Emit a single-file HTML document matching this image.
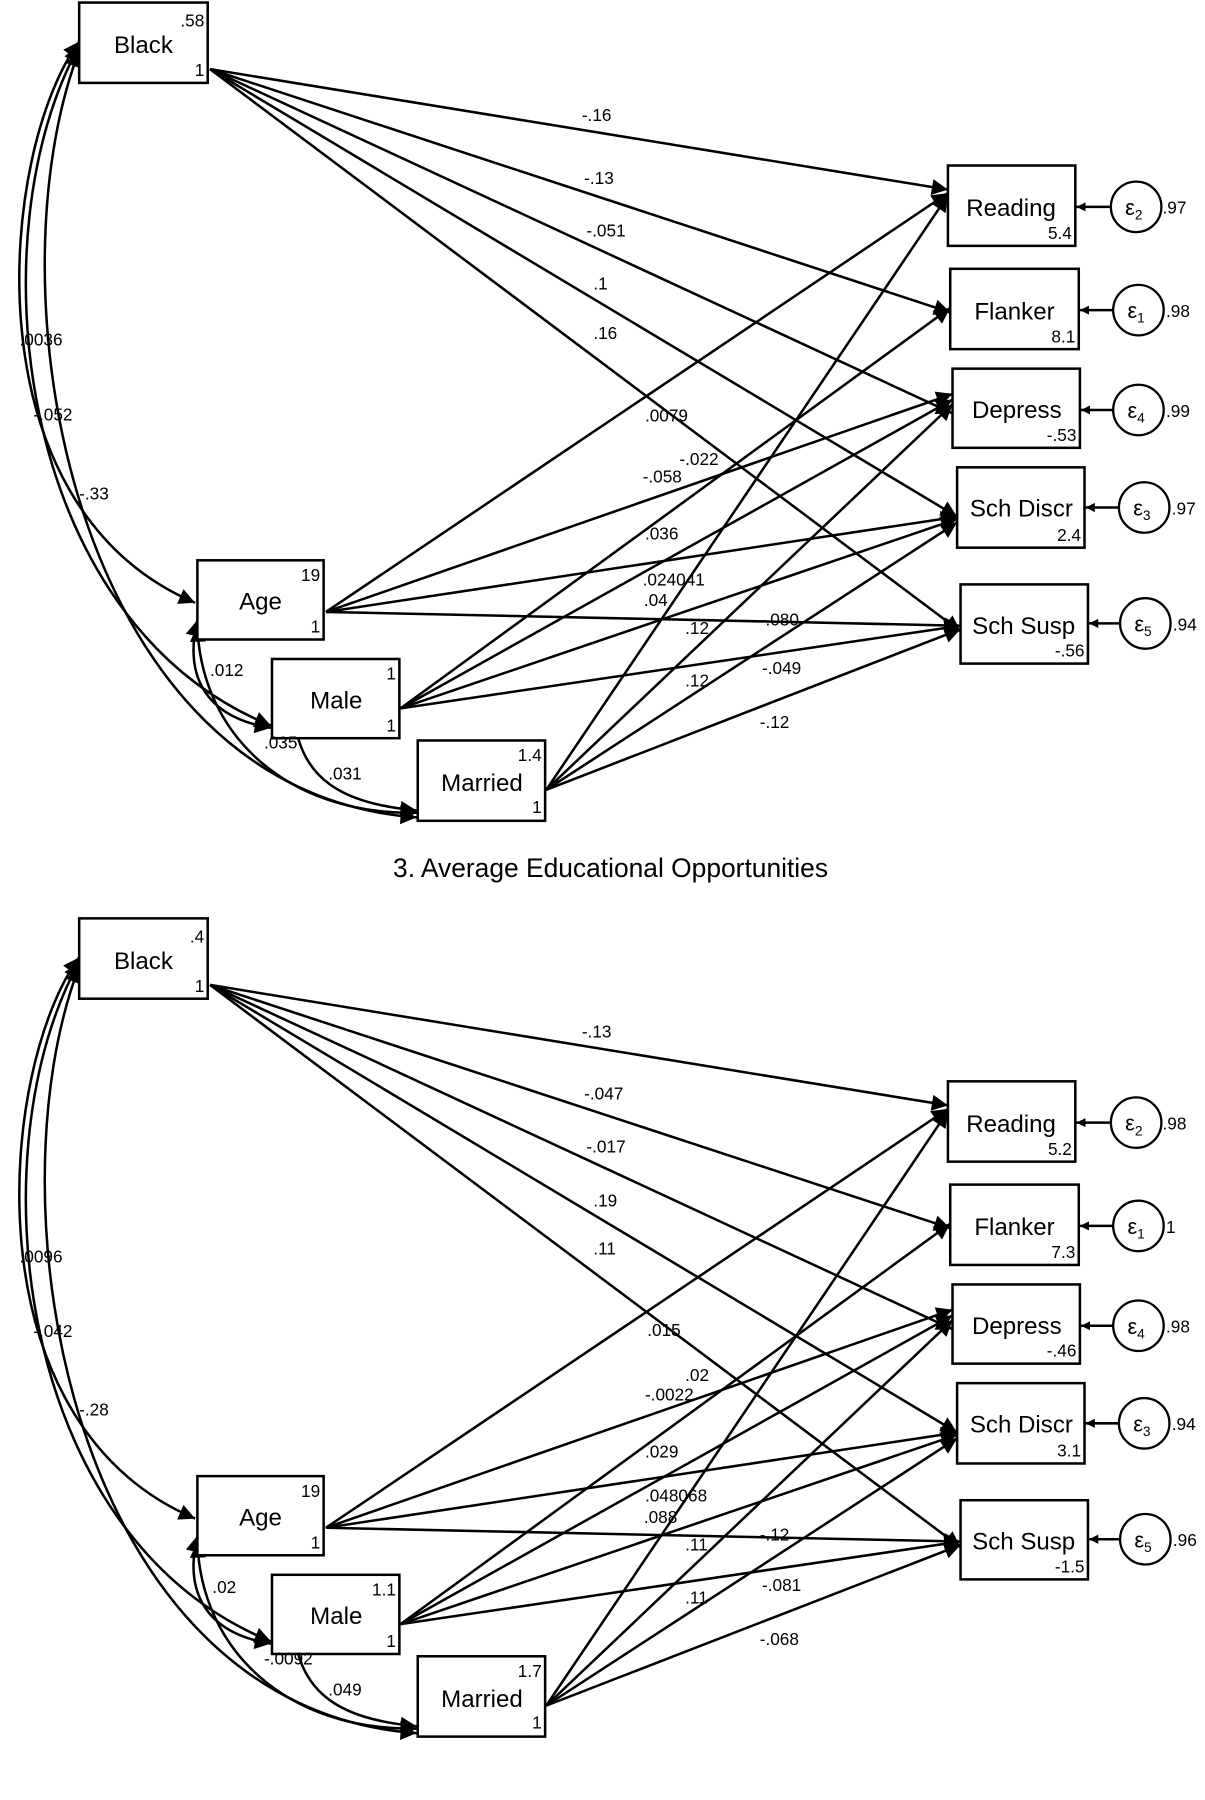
<!DOCTYPE html>
<html><head><meta charset="utf-8"><style>
html,body{margin:0;padding:0;background:#fff}
svg{display:block}
text{font-family:"Liberation Sans",Arial,sans-serif;fill:#000}
.b{font-size:21px;text-anchor:middle}
.s{font-size:15px}
.r{text-anchor:end}
.t{font-size:23px;text-anchor:middle}
line,path{stroke:#000;stroke-width:2.2;fill:none}
rect{stroke:#000;stroke-width:2.2;fill:#fff}
circle{stroke:#000;stroke-width:2;fill:#fff}
</style></head><body>
<svg width="1205" height="1800" viewBox="0 0 1050 1568" xmlns="http://www.w3.org/2000/svg">
<defs>
<marker id="a" viewBox="0 0 10 10" refX="10" refY="5" markerWidth="8" markerHeight="8" markerUnits="userSpaceOnUse" orient="auto-start-reverse"><path d="M0,0 L10,5 L0,10 z" style="fill:#000;stroke:none"/></marker>
<marker id="A" viewBox="0 0 10 10" refX="10" refY="5" markerWidth="16" markerHeight="14" markerUnits="userSpaceOnUse" orient="auto-start-reverse"><path d="M0,0 L10,5 L0,10 z" style="fill:#000;stroke:none"/></marker>
</defs>

<!-- PANEL 1 -->
<g>
<g marker-end="url(#A)">
<line x1="183" y1="60" x2="826" y2="165"/>
<line x1="183" y1="60" x2="828" y2="272"/>
<line x1="183" y1="60" x2="830" y2="360"/>
<line x1="183" y1="60" x2="834" y2="450"/>
<line x1="183" y1="60" x2="837" y2="550"/>
<line x1="284" y1="533" x2="826" y2="168"/>
<line x1="284" y1="533" x2="830" y2="343"/>
<line x1="284" y1="533" x2="834" y2="450"/>
<line x1="284" y1="533" x2="837" y2="545"/>
<line x1="349" y1="617" x2="828" y2="268"/>
<line x1="349" y1="617" x2="830" y2="348"/>
<line x1="349" y1="617" x2="834" y2="452"/>
<line x1="349" y1="617" x2="837" y2="545"/>
<line x1="476" y1="688" x2="826" y2="170"/>
<line x1="476" y1="688" x2="830" y2="352"/>
<line x1="476" y1="688" x2="834" y2="455"/>
<line x1="476" y1="688" x2="837" y2="548"/>
</g>
<g marker-end="url(#A)" marker-start="url(#A)">
<path d="M69,36 C0,130 -30,440 170,525"/>
<path d="M69,40 C-20,200 10,540 236,632"/>
<path d="M69,44 C-10,250 60,690 363,712"/>
<path d="M172,540 C160,590 180,625 236,634"/>
<path d="M172,545 C175,640 250,710 363,708"/>
<path d="M256,620 C260,680 300,700 363,706"/>
</g>
<rect x="69" y="2" width="112" height="70"/><text class="b" x="125" y="46">Black</text><text class="s r" x="178" y="23">.58</text><text class="s r" x="178" y="66">1</text>
<rect x="172" y="488" width="110" height="69"/><text class="b" x="227" y="531">Age</text><text class="s r" x="279" y="506">19</text><text class="s r" x="279" y="551">1</text>
<rect x="237" y="574" width="111" height="69"/><text class="b" x="293" y="617">Male</text><text class="s r" x="345" y="592">1</text><text class="s r" x="345" y="637">1</text>
<rect x="364" y="645" width="111" height="70"/><text class="b" x="420" y="689">Married</text><text class="s r" x="472" y="663">1.4</text><text class="s r" x="472" y="708">1</text>
<rect x="826" y="144" width="111" height="70"/><text class="b" x="881" y="188">Reading</text><text class="s r" x="934" y="208">5.4</text>
<rect x="828" y="234" width="112" height="70"/><text class="b" x="884" y="278">Flanker</text><text class="s r" x="937" y="298">8.1</text>
<rect x="830" y="321" width="111" height="69"/><text class="b" x="886" y="364">Depress</text><text class="s r" x="938" y="384">-.53</text>
<rect x="834" y="407" width="111" height="70"/><text class="b" x="890" y="450">Sch Discr</text><text class="s r" x="942" y="471">2.4</text>
<rect x="837" y="509" width="111" height="69"/><text class="b" x="892" y="552">Sch Susp</text><text class="s r" x="945" y="572">-.56</text>
<g marker-end="url(#a)">
<line x1="968" y1="180" x2="938" y2="180"/><line x1="970" y1="270" x2="941" y2="270"/><line x1="970" y1="357" x2="942" y2="357"/><line x1="975" y1="442" x2="946" y2="442"/><line x1="976" y1="543" x2="949" y2="543"/>
</g>
<circle cx="990" cy="180" r="22"/><circle cx="992" cy="270" r="22"/><circle cx="992" cy="357" r="22"/><circle cx="997" cy="442" r="22"/><circle cx="998" cy="543" r="22"/>
<g class="b" style="font-size:19px">
<text x="988" y="187">ε<tspan font-size="12" dy="4">2</tspan></text>
<text x="990" y="277">ε<tspan font-size="12" dy="4">1</tspan></text>
<text x="990" y="364">ε<tspan font-size="12" dy="4">4</tspan></text>
<text x="995" y="449">ε<tspan font-size="12" dy="4">3</tspan></text>
<text x="996" y="550">ε<tspan font-size="12" dy="4">5</tspan></text>
</g>
<text class="s" x="1013" y="186">.97</text><text class="s" x="1016" y="276">.98</text><text class="s" x="1016" y="363">.99</text><text class="s" x="1021" y="448">.97</text><text class="s" x="1022" y="549">.94</text>
<g class="s">
<text x="507" y="105">-.16</text><text x="509" y="160">-.13</text><text x="511" y="206">-.051</text><text x="517" y="252">.1</text><text x="517" y="295">.16</text>
<text x="562" y="367">.0079</text><text x="592" y="405">-.022</text><text x="560" y="420">-.058</text><text x="562" y="470">.036</text>
<text x="560" y="510">.024041</text><text x="561" y="528">.04</text><text x="597" y="552">.12</text><text x="662" y="545">-.080</text>
<text x="664" y="587">-.049</text><text x="597" y="598">.12</text><text x="662" y="634">-.12</text>
<text x="17" y="301">.0036</text><text x="29" y="366">-.052</text><text x="69" y="435">-.33</text>
<text x="183" y="589">.012</text><text x="230" y="652">.035</text><text x="286" y="679">.031</text>
</g>
<text class="t" x="532" y="764">3. Average Educational Opportunities</text>
</g>

<!-- PANEL 2 -->
<g transform="translate(0,798)">
<g marker-end="url(#A)">
<line x1="183" y1="60" x2="826" y2="165"/>
<line x1="183" y1="60" x2="828" y2="272"/>
<line x1="183" y1="60" x2="830" y2="360"/>
<line x1="183" y1="60" x2="834" y2="450"/>
<line x1="183" y1="60" x2="837" y2="550"/>
<line x1="284" y1="533" x2="826" y2="168"/>
<line x1="284" y1="533" x2="830" y2="343"/>
<line x1="284" y1="533" x2="834" y2="450"/>
<line x1="284" y1="533" x2="837" y2="545"/>
<line x1="349" y1="617" x2="828" y2="268"/>
<line x1="349" y1="617" x2="830" y2="348"/>
<line x1="349" y1="617" x2="834" y2="452"/>
<line x1="349" y1="617" x2="837" y2="545"/>
<line x1="476" y1="688" x2="826" y2="170"/>
<line x1="476" y1="688" x2="830" y2="352"/>
<line x1="476" y1="688" x2="834" y2="455"/>
<line x1="476" y1="688" x2="837" y2="548"/>
</g>
<g marker-end="url(#A)" marker-start="url(#A)">
<path d="M69,36 C0,130 -30,440 170,525"/>
<path d="M69,40 C-20,200 10,540 236,632"/>
<path d="M69,44 C-10,250 60,690 363,712"/>
<path d="M172,540 C160,590 180,625 236,634"/>
<path d="M172,545 C175,640 250,710 363,708"/>
<path d="M256,620 C260,680 300,700 363,706"/>
</g>
<rect x="69" y="2" width="112" height="70"/><text class="b" x="125" y="46">Black</text><text class="s r" x="178" y="23">.4</text><text class="s r" x="178" y="66">1</text>
<rect x="172" y="488" width="110" height="69"/><text class="b" x="227" y="531">Age</text><text class="s r" x="279" y="506">19</text><text class="s r" x="279" y="551">1</text>
<rect x="237" y="574" width="111" height="69"/><text class="b" x="293" y="617">Male</text><text class="s r" x="345" y="592">1.1</text><text class="s r" x="345" y="637">1</text>
<rect x="364" y="645" width="111" height="70"/><text class="b" x="420" y="689">Married</text><text class="s r" x="472" y="663">1.7</text><text class="s r" x="472" y="708">1</text>
<rect x="826" y="144" width="111" height="70"/><text class="b" x="881" y="188">Reading</text><text class="s r" x="934" y="208">5.2</text>
<rect x="828" y="234" width="112" height="70"/><text class="b" x="884" y="278">Flanker</text><text class="s r" x="937" y="298">7.3</text>
<rect x="830" y="321" width="111" height="69"/><text class="b" x="886" y="364">Depress</text><text class="s r" x="938" y="384">-.46</text>
<rect x="834" y="407" width="111" height="70"/><text class="b" x="890" y="450">Sch Discr</text><text class="s r" x="942" y="471">3.1</text>
<rect x="837" y="509" width="111" height="69"/><text class="b" x="892" y="552">Sch Susp</text><text class="s r" x="945" y="572">-1.5</text>
<g marker-end="url(#a)">
<line x1="968" y1="180" x2="938" y2="180"/><line x1="970" y1="270" x2="941" y2="270"/><line x1="970" y1="357" x2="942" y2="357"/><line x1="975" y1="442" x2="946" y2="442"/><line x1="976" y1="543" x2="949" y2="543"/>
</g>
<circle cx="990" cy="180" r="22"/><circle cx="992" cy="270" r="22"/><circle cx="992" cy="357" r="22"/><circle cx="997" cy="442" r="22"/><circle cx="998" cy="543" r="22"/>
<g class="b" style="font-size:19px">
<text x="988" y="187">ε<tspan font-size="12" dy="4">2</tspan></text>
<text x="990" y="277">ε<tspan font-size="12" dy="4">1</tspan></text>
<text x="990" y="364">ε<tspan font-size="12" dy="4">4</tspan></text>
<text x="995" y="449">ε<tspan font-size="12" dy="4">3</tspan></text>
<text x="996" y="550">ε<tspan font-size="12" dy="4">5</tspan></text>
</g>
<text class="s" x="1013" y="186">.98</text><text class="s" x="1016" y="276">1</text><text class="s" x="1016" y="363">.98</text><text class="s" x="1021" y="448">.94</text><text class="s" x="1022" y="549">.96</text>
<g class="s">
<text x="507" y="106">-.13</text><text x="509" y="160">-.047</text><text x="511" y="206">-.017</text><text x="517" y="253">.19</text><text x="517" y="295">.11</text>
<text x="564" y="366">.015</text><text x="597" y="405">.02</text><text x="562" y="422">-.0022</text><text x="562" y="472">.029</text>
<text x="562" y="510">.048068</text><text x="561" y="529">.088</text><text x="597" y="553">.11</text><text x="662" y="544">-.12</text>
<text x="664" y="588">-.081</text><text x="597" y="599">.11</text><text x="662" y="635">-.068</text>
<text x="17" y="302">.0096</text><text x="29" y="367">-.042</text><text x="69" y="435">-.28</text>
<text x="185" y="590">.02</text><text x="230" y="652">-.0092</text><text x="286" y="679">.049</text>
</g>
<text class="t" x="532" y="792">4. High Educational Opportunities</text>
</g>
</svg>
</body></html>
